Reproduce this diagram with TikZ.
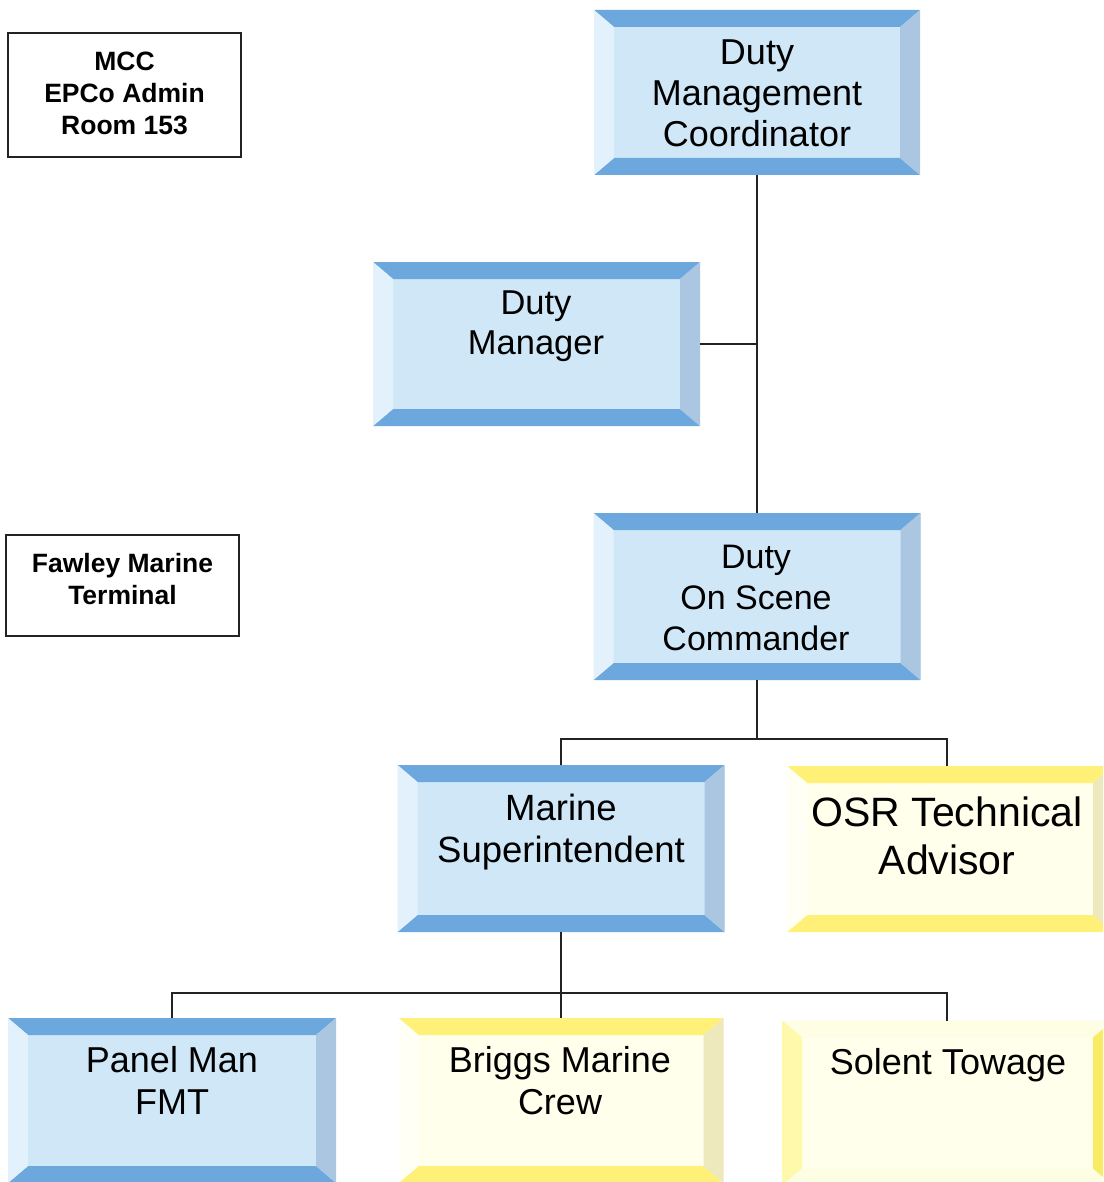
\documentclass[tikz,border=0pt]{standalone}
\usepackage{fontspec}
\setmainfont{Liberation Sans}
\begin{document}
\begin{tikzpicture}[x=1pt,y=-1pt]
\definecolor{bTop}{RGB}{108,168,222}
\definecolor{bMid}{RGB}{207,231,246}
\definecolor{bLeft}{RGB}{226,241,251}
\definecolor{bRight}{RGB}{170,198,224}
\definecolor{yTop}{RGB}{255,241,120}
\definecolor{yMid}{RGB}{255,255,236}
\definecolor{yLeft}{RGB}{255,255,246}
\definecolor{yRight}{RGB}{238,233,188}
\definecolor{sTop}{RGB}{254,254,228}
\definecolor{sLeft}{RGB}{255,249,172}
\definecolor{sRight}{RGB}{249,235,100}
\definecolor{lineC}{RGB}{35,35,35}
\tikzset{
  bevelbox/.style n args={4}{inner sep=0pt, outer sep=0pt,
    path picture={
      \path (path picture bounding box.north west) coordinate (@nw)
            (path picture bounding box.north east) coordinate (@ne)
            (path picture bounding box.south west) coordinate (@sw)
            (path picture bounding box.south east) coordinate (@se);
      \fill[#2] (@nw) rectangle (@se);
      \fill[#1] (@nw) -- (@ne) -- ([xshift=-20pt,yshift=-17pt]@ne) -- ([xshift=20pt,yshift=-17pt]@nw) -- cycle;
      \fill[#1] (@sw) -- (@se) -- ([xshift=-20pt,yshift=17pt]@se) -- ([xshift=20pt,yshift=17pt]@sw) -- cycle;
      \fill[#3] (@nw) -- ([xshift=20pt,yshift=-17pt]@nw) -- ([xshift=20pt,yshift=17pt]@sw) -- (@sw) -- cycle;
      \fill[#4] (@ne) -- ([xshift=-20pt,yshift=-17pt]@ne) -- ([xshift=-20pt,yshift=17pt]@se) -- (@se) -- cycle;
    }},
  bluebox/.style={bevelbox={bTop}{bMid}{bLeft}{bRight}},
  yellowbox/.style={bevelbox={yTop}{yMid}{yLeft}{yRight}},
  sidebox/.style={bevelbox={sTop}{yMid}{sLeft}{sRight}},
  roletext/.style={align=center, inner sep=0pt, font=\fontsize{36}{41}\selectfont},
  sitebox/.style={draw=lineC, line width=1.6pt, inner sep=0pt, fill=white},
  sitetext/.style={align=center, inner sep=0pt, font=\fontsize{26.5}{32}\selectfont\bfseries},
  conn/.style={draw=lineC, line width=2pt}
}
\useasboundingbox (0,0) rectangle (1103,1182);
\clip (0,0) rectangle (1103,1182);
\fill[white] (0,0) rectangle (1103,1182);

% location labels
\node[sitebox, minimum width=233pt, minimum height=124pt] (mcc) at (124.5,95) {};
\node[sitetext] (mcc-t) at (124.5,93) {MCC\\EPCo Admin\\Room 153};
\node[sitebox, minimum width=233pt, minimum height=101pt] (fmt) at (122.5,585.5) {};
\node[sitetext] (fmt-t) at (122.5,579) {Fawley Marine\\Terminal};

% role boxes
\node[bluebox, minimum width=326pt, minimum height=165pt] (dmc) at (757,92.5) {};
\node[bluebox, minimum width=327pt, minimum height=164pt] (dm) at (536.5,344) {};
\node[bluebox, minimum width=327pt, minimum height=167pt] (dosc) at (757,596.5) {};
\node[bluebox, minimum width=327pt, minimum height=167pt] (ms) at (561,848.5) {};
\node[yellowbox, minimum width=326pt, minimum height=166pt] (osr) at (950,849) {};
\node[bluebox, minimum width=328pt, minimum height=165pt] (pm) at (172,1100.5) {};
\node[yellowbox, minimum width=325pt, minimum height=165pt] (bmc) at (561,1100.5) {};
\node[sidebox, minimum width=331pt, minimum height=165pt] (st) at (947.5,1103) {};

\node[roletext] (dmc-t) at (757,93) {Duty\\Management\\Coordinator};
\node[roletext, font=\fontsize{34.5}{40}\selectfont] (dm-t) at (536,326) {Duty\\Manager};
\node[roletext, font=\fontsize{34}{41}\selectfont] (dosc-t) at (756,597.5) {Duty\\On Scene\\Commander};
\node[roletext, font=\fontsize{36.5}{42}\selectfont] (ms-t) at (561,832) {Marine\\Superintendent};
\node[roletext, font=\fontsize{41}{48}\selectfont] (osr-t) at (947,836) {OSR Technical\\Advisor};
\node[roletext, font=\fontsize{36}{42}\selectfont] (pm-t) at (172,1080) {Panel Man\\FMT};
\node[roletext, font=\fontsize{36}{42}\selectfont] (bmc-t) at (560,1081) {Briggs Marine\\Crew};
\node[roletext, font=\fontsize{36}{42}\selectfont] (st-t) at (948,1065) {Solent Towage};

% reporting lines
\coordinate (j1) at (757,739);
\coordinate (j2) at (561,993);
\draw[conn] (dmc.south) -- (dosc.north);
\draw[conn] (dm.east) -- (dm.east -| dmc.south);
\draw[conn] (dosc.south) -- (j1);
\draw[conn] (ms.north) |- (j1) -| ([xshift=-3pt]osr.north);
\draw[conn] (ms.south) -- (bmc.north);
\draw[conn] (pm.north) |- (j2) -| ([xshift=-0.5pt]st.north);
\end{tikzpicture}
\end{document}
